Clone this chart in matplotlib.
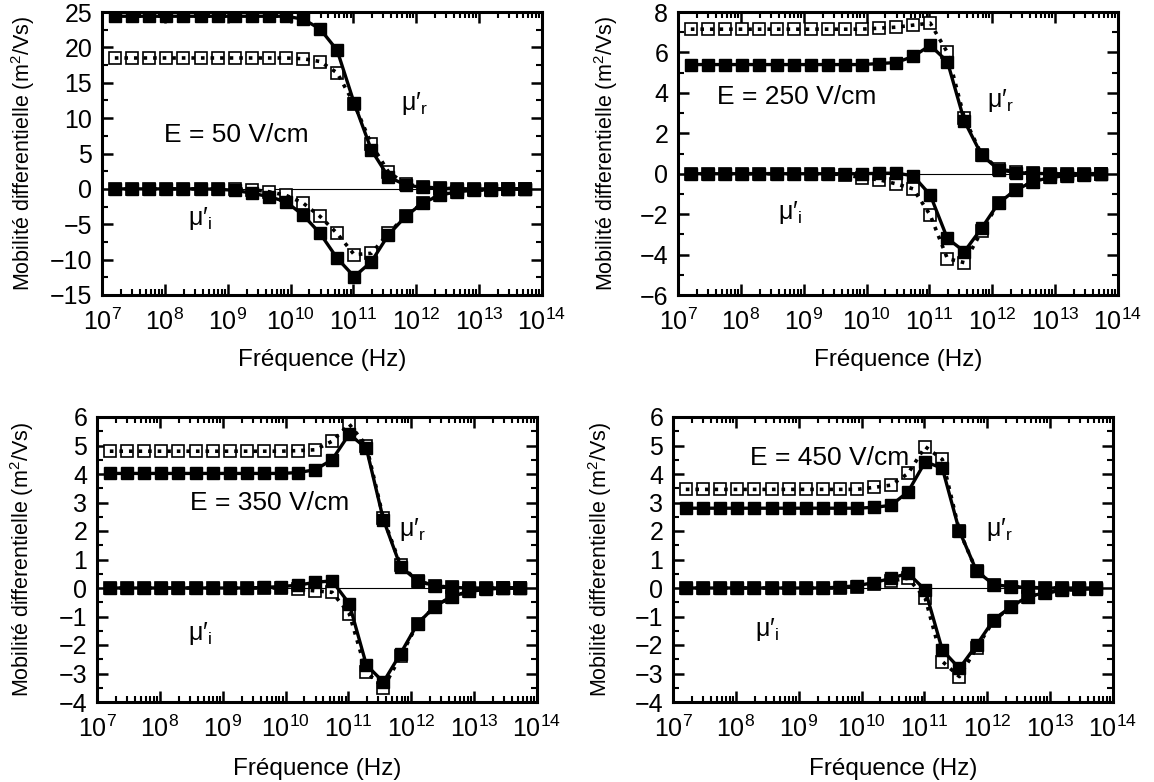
import matplotlib
matplotlib.use("Agg")
import matplotlib.pyplot as plt
from matplotlib.ticker import MultipleLocator, LogLocator, NullFormatter

plt.rcParams['font.family'] = ['Liberation Sans', 'DejaVu Sans']
plt.rcParams['mathtext.fontset'] = 'custom'
plt.rcParams['mathtext.rm'] = 'Liberation Sans'
plt.rcParams['mathtext.it'] = 'Liberation Sans:italic'
plt.rcParams['mathtext.bf'] = 'Liberation Sans:bold'

# frequencies (Hz) of the sample points
freq = [1.6e7, 3.0e7, 5.6e7, 1.05e8, 1.97e8, 3.7e8, 6.9e8, 1.29e9, 2.41e9, 4.5e9,
        8.4e9, 1.58e10, 2.95e10, 5.5e10, 1.03e11, 1.93e11, 3.6e11, 6.75e11, 1.26e12,
        2.36e12, 4.4e12, 8.3e12, 1.55e13, 2.9e13, 5.4e13]

fields = ["E = 50 V/cm", "E = 250 V/cm", "E = 350 V/cm", "E = 450 V/cm"]

# E = 50 V/cm
r1_full = [24.4] * 11 + [24.0, 22.6, 19.6, 12.1, 5.5, 1.7, 0.55, 0.2, 0.08, 0.03, 0, 0, 0, 0]
r1_open = [18.5] * 11 + [18.4, 18.0, 16.4, 12.0, 6.3, 2.4, 0.7, 0.25, 0.1, 0.03, 0, 0, 0, 0]
i1_full = [0, 0, 0, 0, 0, 0, -0.05, -0.2, -0.6, -1.1, -1.8, -3.7, -6.3, -9.8, -12.4,
           -10.3, -6.5, -3.9, -2.0, -0.9, -0.4, -0.2, -0.1, -0.05, 0]
i1_open = [0, 0, 0, 0, 0, 0, 0, 0, -0.1, -0.4, -0.9, -2.0, -3.9, -6.3, -9.3,
           -9.1, -6.3, -3.8, -2.0, -0.9, -0.4, -0.2, -0.1, 0, 0]

# E = 250 V/cm
r2_full = [5.4] * 11 + [5.45, 5.5, 5.8, 6.35, 5.55, 2.6, 0.93, 0.2, 0.06, 0.02, 0, 0, 0, 0]
r2_open = [7.15] * 11 + [7.2, 7.25, 7.35, 7.45, 6.0, 2.75, 0.95, 0.25, 0.08, 0.02, 0, 0, 0, 0]
i2_full = [0] * 11 + [0.02, 0.03, -0.1, -1.05, -3.2, -3.85, -2.7, -1.45, -0.8, -0.4,
                      -0.18, -0.1, -0.05, -0.03]
i2_open = [0] * 9 + [-0.05, -0.2, -0.3, -0.5, -0.75, -2.05, -4.2, -4.4, -2.85, -1.45,
                     -0.8, -0.4, -0.18, -0.1, -0.05, -0.03]

# E = 350 V/cm
r3_full = [4.02] * 11 + [4.05, 4.15, 4.5, 5.4, 4.9, 2.4, 0.75, 0.25, 0.08, 0.02, 0, 0, 0, 0]
r3_open = [4.8] * 11 + [4.82, 4.85, 5.15, 5.75, 5.0, 2.45, 0.8, 0.25, 0.08, 0.02, 0, 0, 0, 0]
i3_full = [0] * 9 + [0.02, 0.05, 0.1, 0.2, 0.25, -0.55, -2.7, -3.3, -2.3, -1.25, -0.65,
                     -0.3, -0.12, -0.05, 0, 0]
i3_open = [0] * 11 + [-0.05, -0.1, -0.15, -0.9, -2.95, -3.5, -2.4, -1.25, -0.65,
                      -0.3, -0.12, -0.05, 0, 0]

# E = 450 V/cm
r4_full = [2.8] * 11 + [2.83, 2.9, 3.38, 4.43, 4.2, 2.0, 0.6, 0.12, 0.05, 0.02, 0, 0, 0, 0]
r4_open = [3.46] * 11 + [3.53, 3.61, 4.02, 4.96, 4.51, 2.0, 0.6, 0.12, 0.05, 0.02, 0, 0, 0, 0]
i4_full = [0] * 9 + [0.03, 0.08, 0.19, 0.34, 0.52, -0.07, -2.18, -2.82, -2.0, -1.12,
                     -0.66, -0.3, -0.17, -0.08, -0.05, -0.03]
i4_open = [0] * 10 + [0.05, 0.15, 0.25, 0.34, -0.36, -2.58, -3.11, -2.1, -1.15,
                      -0.66, -0.3, -0.17, -0.08, -0.05, -0.03]

panels = [
    (r1_full, r1_open, i1_full, i1_open),
    (r2_full, r2_open, i2_full, i2_open),
    (r3_full, r3_open, i3_full, i3_open),
    (r4_full, r4_open, i4_full, i4_open),
]
ylims = [(-15, 25), (-6, 8), (-4, 6), (-4, 6)]
ymajor = [5, 2, 1, 1]
yminor = [2.5, 1, 0.5, 0.5]

# axes boxes in pixels: left, top, right, bottom
W, H = 1154, 782
boxes = [(102, 12, 542, 295), (678, 12, 1118, 295),
         (97, 417, 537, 702), (673, 417, 1113, 702)]
# text positions (axes fraction)
e_pos = [(0.305, 0.565), (0.27, 0.70), (0.393, 0.698), (0.357, 0.856)]
mr_pos = [(0.709, 0.678), (0.732, 0.689), (0.718, 0.604), (0.743, 0.604)]
mi_pos = [(0.223, 0.272), (0.255, 0.293), (0.234, 0.242), (0.214, 0.253)]
ylab_x = [-0.148, -0.132, -0.139, -0.134]
xlab_y = [-0.19, -0.19, -0.195, -0.195]

fig = plt.figure(figsize=(W / 100, H / 100), dpi=100)

for p in range(4):
    l, t, r, b = boxes[p]
    ax = fig.add_axes([l / W, 1 - b / H, (r - l) / W, (b - t) / H])
    real_full, real_open, imag_full, imag_open = panels[p]

    ax.axhline(0, color='black', lw=0.8, zorder=1)
    for ys in (real_open, imag_open):
        ax.plot(freq, ys, ls='none', marker='s', ms=9, mfc='white', mec='black',
                mew=1.2, zorder=2)
        ax.plot(freq, ys, ls=':', color='black', lw=2.6, zorder=3)
    for ys in (real_full, imag_full):
        ax.plot(freq, ys, ls='-', color='black', lw=2.4, marker='s', ms=9,
                mfc='black', mec='black', zorder=4)

    ax.set_xscale('log')
    ax.set_xlim(1e7, 1e14)
    ax.set_ylim(*ylims[p])
    ax.xaxis.set_major_locator(LogLocator(base=10, numticks=20))
    ax.xaxis.set_minor_locator(LogLocator(base=10, subs=range(2, 10), numticks=20))
    ax.xaxis.set_minor_formatter(NullFormatter())
    ax.yaxis.set_major_locator(MultipleLocator(ymajor[p]))
    ax.yaxis.set_minor_locator(MultipleLocator(yminor[p]))
    ax.tick_params(which='both', direction='in', top=True, right=True, labelsize=18)
    ax.tick_params(which='major', length=8, width=1.8, pad=7)
    ax.tick_params(axis='x', which='major', pad=10)
    ax.tick_params(which='minor', length=4, width=1.5)
    for s in ax.spines.values():
        s.set_linewidth(2.2)

    ax.set_xlabel('Fréquence (Hz)', fontsize=17.5)
    ax.xaxis.set_label_coords(0.5, xlab_y[p])
    ax.set_ylabel('Mobilité differentielle (m$^2$/Vs)', fontsize=15.5)
    ax.yaxis.set_label_coords(ylab_x[p], 0.5)

    ax.text(*e_pos[p], fields[p], transform=ax.transAxes, fontsize=19,
            ha='center', va='center')
    ax.text(*mr_pos[p], 'μ′$_\\mathregular{r}$', transform=ax.transAxes, fontsize=18,
            ha='center', va='center')
    ax.text(*mi_pos[p], 'μ′$_\\mathregular{i}$', transform=ax.transAxes, fontsize=18,
            ha='center', va='center')

fig.savefig('out.png', dpi=100)
